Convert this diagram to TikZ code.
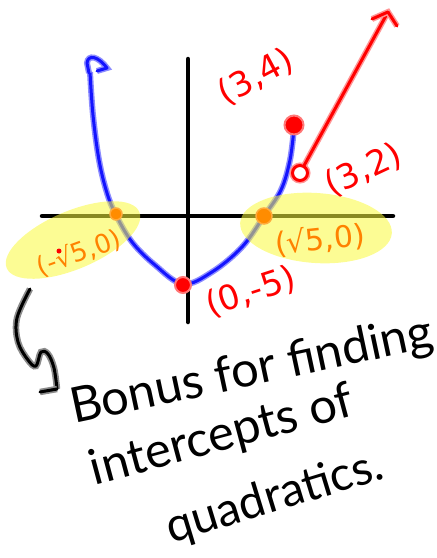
\documentclass[tikz,border=0pt]{standalone}
\usepackage{fontspec}
\setmainfont{DejaVu Sans}
\newfontfamily\handfont{Lato}
\begin{document}
\begin{tikzpicture}[x=1pt,y=-1pt,
  axis/.style={draw=black,line width=4.5pt,line cap=round},
  blueline/.style={draw={rgb,255:red,20;green,20;blue,255},line width=3pt,line cap=round,line join=round,
    preaction={draw={rgb,255:red,140;green,140;blue,255},line width=6pt}},
  redline/.style={draw=red,line width=3pt,line cap=round,line join=round,
    preaction={draw={rgb,255:red,255;green,150;blue,150},line width=6pt}},
  blackline/.style={draw=black,line width=3pt,line cap=round,line join=round,
    preaction={draw=black!45,line width=6.5pt}},
  hilite/.style={fill={rgb,255:red,250;green,250;blue,60},opacity=0.55},
  odot/.style={circle,fill={rgb,255:red,255;green,140;blue,0},draw={rgb,255:red,255;green,170;blue,60},line width=1.5pt,inner sep=0pt},
  rdot/.style={circle,fill=red,draw={rgb,255:red,255;green,120;blue,120},line width=2pt,inner sep=0pt},
  redlab/.style={text=red,font=\fontsize{34}{36}\selectfont,inner sep=0pt},
  orglab/.style={text={rgb,255:red,255;green,130;blue,0},inner sep=0pt},
  hand/.style={text=black,font=\handfont\fontsize{49}{52}\selectfont,inner sep=0pt}
]
\useasboundingbox (0,0) rectangle (437,558);
% axes
\coordinate (xl) at (42,216); \coordinate (xr) at (393,216);
\coordinate (yt) at (188,59); \coordinate (yb) at (188,322);
\draw[axis] (xl) -- (xr);
\draw[axis] (yt) -- (yb);
% parabola
\draw[blueline] plot[smooth,tension=0.6] coordinates {(90,72) (93,115) (99,160) (107,193) (116,215) (132,242) (155,265) (183,284) (212,272) (242,247) (264,216) (281,190) (290,160) (294,128)};
\draw[blueline] (89,73) -- (87,63) .. controls (88,54) and (98,56) .. (107,68) -- (97,71);
% red ray
\node[circle,draw=red,fill=white,line width=3pt,minimum size=15pt,inner sep=0pt,
  preaction={draw={rgb,255:red,255;green,150;blue,150},line width=6pt}] (oc) at (300,173) {};
\coordinate (tip) at (388,12);
\coordinate (armL) at (372,19);
\coordinate (armR) at (397,26);
\draw[redline] (oc) -- (tip);
\draw[redline] (armL) -- (tip) -- (armR);
% filled dots
\node[rdot,minimum size=19pt] (top) at (294,125) {};
\node[rdot,minimum size=16pt] (vert) at (183,285) {};
% yellow highlights
\fill[hilite,rotate around={23:(73,240)}] (73,240) ellipse [x radius=72, y radius=29];
\fill[hilite,rotate around={-4:(316,228)}] (316,228) ellipse [x radius=76, y radius=35];
% orange intercept dots
\node[odot,minimum size=12pt] (li) at (116,214) {};
\node[odot,minimum size=16pt] (ri) at (264,216) {};
\node[circle,fill=red,inner sep=0pt,minimum size=5pt] (sd) at (59,251) {};
% labels
\node[redlab,rotate=28] (l34) at (256,77) {(3,4)};
\node[redlab,rotate=25] (l32) at (364,170) {(3,2)};
\node[redlab,rotate=18] (l05) at (251,292) {(0,-5)};
\node[orglab,rotate=20,font=\fontsize{26}{28}\selectfont] (lneg) at (79,253) {(-√5,0)};
\node[orglab,rotate=6,font=\fontsize{30}{32}\selectfont] (lpos) at (320,240) {(√5,0)};
% note text
\node[hand,rotate=12] (t1) at (252,372) {Bonus for finding};
\node[hand,rotate=15] (t2) at (222,437) {intercepts of};
\node[hand,rotate=17,font=\handfont\fontsize{47}{50}\selectfont] (t3) at (275,498) {quadratics.};
% black curved arrow
\coordinate (as) at (30,289);
\coordinate (at) at (57,389);
\coordinate (aa) at (40,392);
\draw[blackline] plot[smooth,tension=0.6] coordinates {(as) (17,318) (18,342) (28,360) (36,366) (41,352) (48,354) (54,368) (at)};
\draw[blackline] (aa) -- (at);
\end{tikzpicture}
\end{document}
